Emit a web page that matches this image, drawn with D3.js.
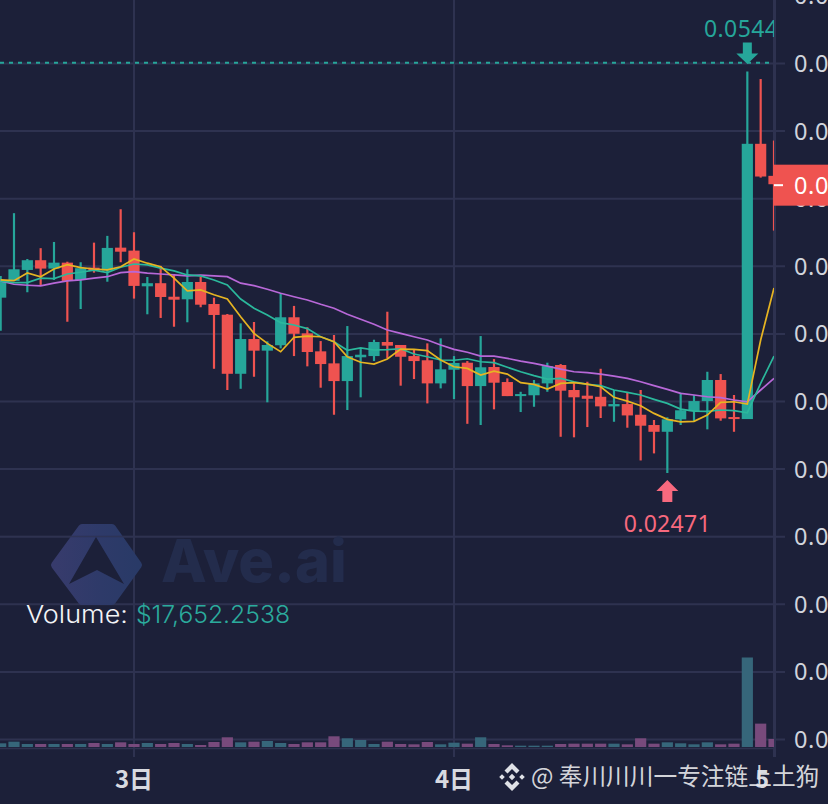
<!DOCTYPE html>
<html><head><meta charset="utf-8">
<script src="https://cdn.jsdelivr.net/npm/d3@7/dist/d3.min.js"></script>
<style>html,body{margin:0;padding:0;background:#1c2039;overflow:hidden}svg{display:block}</style>
</head><body><svg id="c" width="828" height="804"></svg>
<script>
// Prices are in units of 0.00001
const opens=[3768,3892,3973,4045,3983,4027,3899,3990,3968,4138,4116,3852,3875,3775,3756,3884,3721,3642,3205,3462,3376,3416,3623,3504,3371,3282,3151,3327,3336,3440,3418,3336,3305,3134,3235,3287,3114,3255,3144,3040,3046,3134,3270,3085,3043,3035,2964,2981,2902,2826,2776,2868,2929,3003,3159,2885,2870,4906,4669];
const highs=[3929,4393,4054,4134,4180,4034,4030,4175,4225,4422,4252,3921,4003,3943,3978,3923,3768,3647,3578,3588,3445,3801,3707,3549,3447,3492,3558,3388,3457,3664,3418,3381,3430,3467,3336,3299,3484,3314,3171,3072,3159,3287,3277,3134,3146,3242,3085,3065,3085,2863,2883,3065,3048,3220,3203,3048,5440,5385,4930];
const lows=[3524,3892,3808,3862,3899,3590,3684,3953,3886,4030,3761,3645,3618,3553,3586,3697,3242,3085,3094,3183,2994,3393,3336,3260,3102,2902,2937,3031,3299,3319,3117,3166,2986,3097,3018,2835,2826,2942,3040,2922,2961,3072,2739,2735,2811,2878,2850,2806,2564,2616,2471,2826,2850,2794,2858,2776,2870,4656,4264];
const closes=[3886,3978,4045,3983,4027,3892,3986,3968,4136,4108,3855,3875,3773,3753,3884,3716,3640,3205,3462,3376,3418,3623,3501,3366,3277,3151,3336,3346,3440,3413,3331,3299,3134,3238,3285,3114,3253,3139,3040,3055,3134,3262,3080,3031,3020,2964,2981,2897,2821,2776,2868,2935,3003,3159,2875,2870,4906,4664,4607];
const maShort=[3899,3894,3951,3923,3980,4012,3990,3980,3973,3997,4054,4023,3997,3912,3818,3825,3790,3758,3627,3504,3430,3368,3475,3484,3479,3442,3331,3290,3277,3314,3388,3386,3376,3307,3257,3245,3196,3225,3203,3139,3127,3092,3134,3139,3129,3109,3031,3003,2969,2912,2868,2850,2853,2900,2994,2998,2981,3455,3840];
const maMid=[3892,3879,3879,3912,3909,3943,3956,3971,3953,3993,4017,4010,3986,3966,3936,3929,3899,3862,3758,3690,3640,3583,3566,3539,3479,3442,3379,3396,3381,3383,3390,3351,3331,3307,3305,3316,3294,3287,3253,3220,3191,3166,3171,3146,3127,3117,3085,3068,3048,3016,2986,2944,2929,2927,2937,2932,2917,3134,3336];
const maLong=[3892,3867,3860,3855,3875,3892,3899,3912,3923,3953,3960,3949,3943,3936,3929,3934,3929,3923,3875,3857,3830,3801,3775,3751,3719,3690,3645,3608,3571,3529,3504,3479,3455,3418,3386,3364,3336,3336,3319,3299,3282,3262,3240,3220,3213,3203,3188,3171,3146,3117,3090,3060,3048,3035,3028,3011,2998,3085,3171];
// Volume in thousands of dollars
const volumes=[8.1,11.7,6.6,6.6,6.6,6.6,6.6,8.8,6.6,10.3,6.6,8.8,6.6,8.8,6.6,4.4,11,21.3,10.3,11.7,13.2,8.8,6.6,10.3,10.3,23.5,19.1,15.4,6.6,11.7,6.6,5.9,11,5.9,9.5,7.3,21.3,6.6,3.7,2.9,2.9,2.9,6.6,7.3,7.3,7.3,7.3,5.9,19.1,7.3,10.3,8.1,5.9,10.3,5.9,7.3,196.5,51.3,17.65];
const priceTicks=[0.005,0.01,0.015,0.02,0.025,0.03,0.035,0.04,0.045,0.05,0.055,0.06];
const priceTickText="0.0";   // the labels read only this far in the picture
const dayTicks=[{i:10,label:"3日"},{i:34,label:"4日"},{i:58,label:"5"}];
const highLabel="0.0544", lowLabel="0.02471", refPrice=0.05505, lastPrice=0.046;
const legendName="Volume:", legendValue="$17,652.2538", attribution="@ 奉川川川一专注链上土狗";

const UP="#26a69a", DOWN="#ef5350", GRID="#2e3250", BG="#1c2039";
const svg=d3.select("#c");
const plotR=775;
const x=d3.scaleLinear().domain([10,34]).range([134,454]);
const y=d3.scaleLinear().domain([0.005,0.055]).range([739.5,63.5]);
const yv=d3.scaleLinear().domain([0,196.5]).range([747,657.5]);
const P=v=>v/100000;
const n=opens.length, idx=d3.range(n);
const isUp=i=>closes[i]>=opens[i];

const defs=svg.append("defs");
defs.append("clipPath").attr("id","plot").append("rect").attr("x",0).attr("y",0).attr("width",plotR).attr("height",804);
const gr=defs.append("linearGradient").attr("id","hex").attr("x1",0).attr("x2",1).attr("y1",0).attr("y2",0);
gr.append("stop").attr("offset",0).attr("stop-color","#373b6c");
gr.append("stop").attr("offset",0.55).attr("stop-color","#2e3a69");
gr.append("stop").attr("offset",1).attr("stop-color","#293a67");

// grid + axes
const grid=svg.append("g");
grid.selectAll("line.h").data(priceTicks).join("line").attr("class","h")
  .attr("x1",0).attr("x2",785).attr("y1",d=>y(d)).attr("y2",d=>y(d)).attr("stroke",GRID).attr("stroke-width",2);
grid.selectAll("line.v").data(dayTicks).join("line").attr("class","v")
  .attr("x1",d=>x(d.i)).attr("x2",d=>x(d.i)).attr("y1",0).attr("y2",757).attr("stroke",GRID).attr("stroke-width",2);
grid.append("line").attr("x1",0).attr("x2",plotR).attr("y1",748.5).attr("y2",748.5).attr("stroke",GRID).attr("stroke-width",1.5);
svg.selectAll("text.yl").data(priceTicks).join("text").attr("class","yl")
  .attr("x",794).attr("y",d=>y(d)+8.5).attr("fill","#d1d4dc").attr("font-family","'Noto Sans'").attr("font-size",23.5).attr("letter-spacing",0.6).text(priceTickText);

// watermark
const wm=svg.append("g");
wm.append("path").attr("fill","url(#hex)").attr("stroke","url(#hex)").attr("stroke-width",8).attr("stroke-linejoin","round")
  .attr("d","M82 528 L112 528 L138 565 L112 601 L82 601 L55 565 Z");
wm.append("path").attr("fill",BG).attr("d","M96 537 L124 584 L97 570 L69 584 Z");
wm.append("line").attr("x1",0).attr("x2",plotR).attr("y1",536.6).attr("y2",536.6).attr("stroke",GRID).attr("stroke-width",1.5).attr("opacity",.7);
wm.append("text").attr("x",161).attr("y",582).attr("font-family","Inter").attr("font-weight",800).attr("font-size",59.5).attr("fill","#232c4c").text("Ave.ai");

const plot=svg.append("g").attr("clip-path","url(#plot)");
// volume
const bw=11.2;
plot.selectAll("rect.vol").data(idx).join("rect").attr("class","vol")
  .attr("x",i=>x(i)-bw/2).attr("width",bw).attr("y",i=>yv(volumes[i])).attr("height",i=>yv(0)-yv(volumes[i]))
  .attr("fill",i=>isUp(i)?"#36667a":"#784a7c");
// wicks + bodies
plot.selectAll("line.wick").data(idx).join("line").attr("class","wick")
  .attr("x1",i=>x(i)).attr("x2",i=>x(i)).attr("y1",i=>y(P(highs[i]))).attr("y2",i=>y(P(lows[i])))
  .attr("stroke",i=>isUp(i)?UP:DOWN).attr("stroke-width",2.2);
plot.selectAll("rect.body").data(idx).join("rect").attr("class","body")
  .attr("x",i=>x(i)-bw/2).attr("width",bw)
  .attr("y",i=>y(P(Math.max(opens[i],closes[i])))).attr("height",i=>Math.max(1.5,Math.abs(y(P(opens[i]))-y(P(closes[i])))))
  .attr("fill",i=>isUp(i)?UP:DOWN);
// moving averages
const line=d3.line().x((d,i)=>x(i)).y(d=>y(P(d)));
[[maLong,"#b868d8"],[maMid,"#2bb89c"],[maShort,"#e6b422"]].forEach(([a,c])=>
  plot.append("path").attr("d",line(a)).attr("fill","none").attr("stroke",c).attr("stroke-width",1.7));

// reference line
svg.append("line").attr("x1",0).attr("x2",772).attr("y1",y(refPrice)).attr("y2",y(refPrice))
  .attr("stroke",UP).attr("stroke-width",2).attr("stroke-dasharray","4 5");
// high marker
const hi=x(56), lo=x(50);
svg.append("path").attr("fill",UP).attr("d",`M${hi-4.5} 42.5 h9 v11 h6.5 L${hi} 64 L${hi-11} 53.5 h6.5 Z`);
plot.append("text").attr("x",704).attr("y",37).attr("fill",UP).attr("font-family","'Noto Sans'").attr("font-size",23).attr("letter-spacing",0.4).text(highLabel);
// low marker
const PINK="#f7697e";
svg.append("path").attr("fill",PINK).attr("d",`M${lo} 480 L${lo+11} 491 h-6 v11 h-10 v-11 h-6 Z`);
svg.append("text").attr("x",lo).attr("y",532).attr("text-anchor","middle").attr("fill",PINK).attr("font-family","'Noto Sans'").attr("font-size",23).attr("letter-spacing",0.3).text(lowLabel);

// axis border + price tag
svg.append("line").attr("x1",plotR).attr("x2",plotR).attr("y1",0).attr("y2",757).attr("stroke",GRID).attr("stroke-width",2);
const ty=y(lastPrice);
svg.append("rect").attr("x",774).attr("y",ty-20.5).attr("width",54).attr("height",41).attr("fill",DOWN);
svg.append("rect").attr("x",774).attr("y",ty-1).attr("width",9).attr("height",2).attr("fill","#fff");
svg.append("text").attr("x",794).attr("y",ty+8.5).attr("fill","#fff").attr("font-family","'Noto Sans'").attr("font-size",23.5).attr("letter-spacing",0.6).text(priceTickText);

// legend
svg.append("text").attr("x",26).attr("y",623).attr("font-family","Inter").attr("font-weight",300).attr("font-size",24.5)
  .attr("fill","#f2f3f6").attr("textLength",102).attr("lengthAdjust","spacingAndGlyphs").text(legendName);
svg.append("text").attr("x",136).attr("y",623).attr("font-family","Inter").attr("font-weight",300).attr("font-size",24.5)
  .attr("fill","#2bab9d").attr("textLength",154).attr("lengthAdjust","spacingAndGlyphs").text(legendValue);

// x labels
svg.selectAll("text.xl").data(dayTicks).join("text").attr("class","xl")
  .attr("x",d=>d.i==58?762:x(d.i)).attr("y",788).attr("text-anchor","middle").attr("fill","#d8dae0")
  .attr("font-family","'Noto Sans CJK SC'").attr("font-weight",700).attr("font-size",24).text(d=>d.label);

// attribution
const at=svg.append("g");
const diamond=(cx,cy,r)=>`M${cx} ${cy-r}L${cx+r} ${cy}L${cx} ${cy+r}L${cx-r} ${cy}Z`;
at.append("path").attr("fill","#dfe1e6").attr("fill-rule","evenodd")
  .attr("d",diamond(512,777,3.2)+diamond(502,777,2.8)+diamond(522,777,2.8)
   +"M512 763L519.5 770.5L516.5 773.5L512 769L507.5 773.5L504.5 770.5Z"
   +"M512 791L519.5 783.5L516.5 780.5L512 785L507.5 780.5L504.5 783.5Z");
at.append("text").attr("x",531).attr("y",785).attr("fill","#e6e7ea").attr("fill-opacity",.93)
  .attr("font-family","'Noto Sans CJK SC'").attr("font-size",23.7).text(attribution);
</script></body></html>
